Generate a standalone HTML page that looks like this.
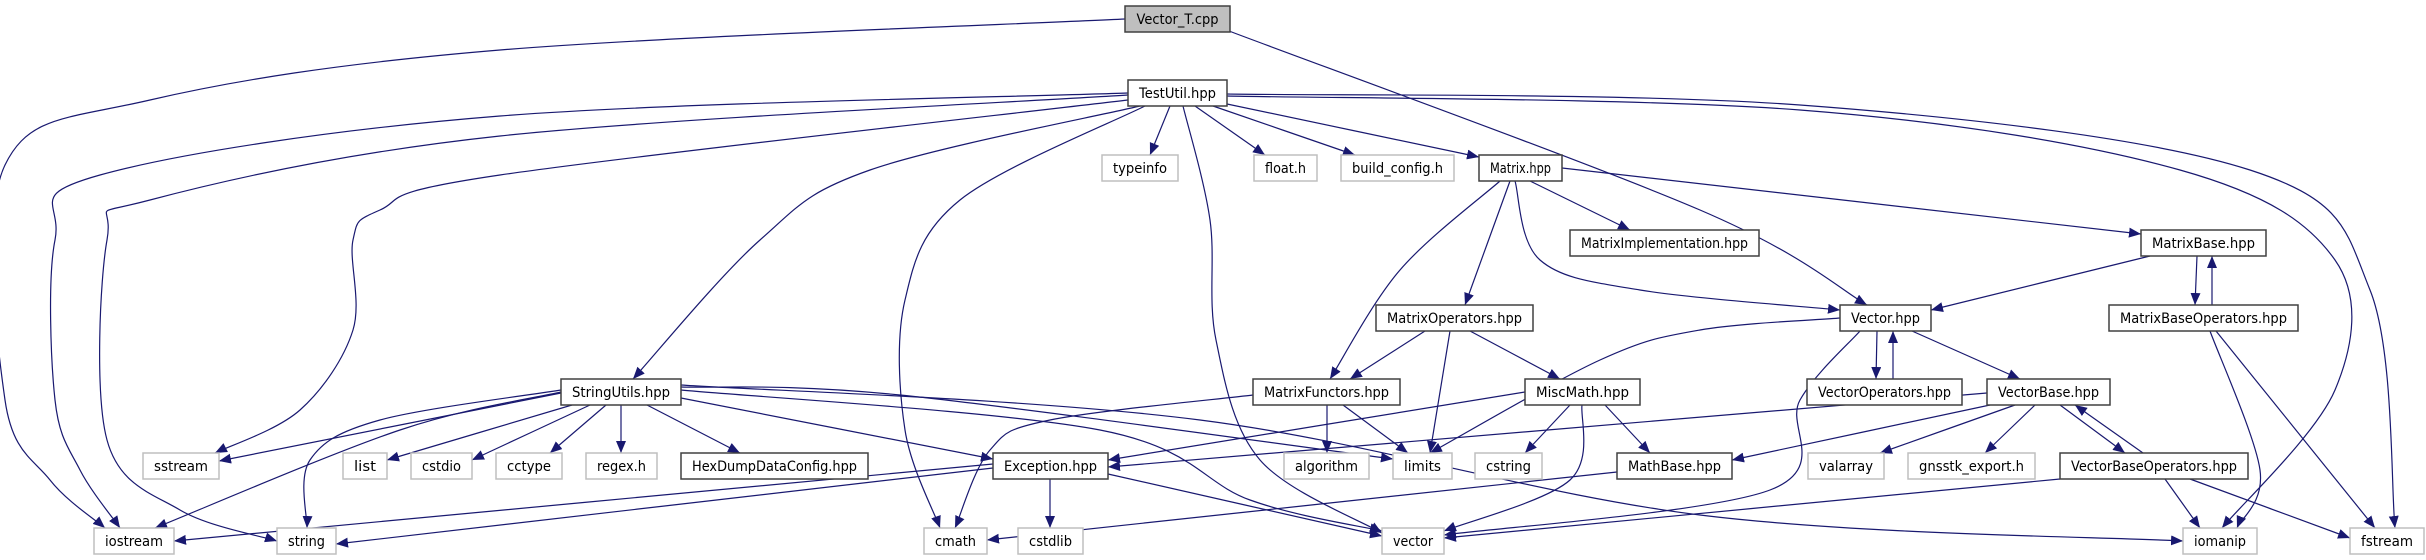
<!DOCTYPE html>
<html><head><meta charset="utf-8"><style>
html,body{margin:0;padding:0;background:#fff;}
svg{display:block;}
text{font-family:"DejaVu Sans","Liberation Sans",sans-serif;font-size:14px;fill:#000;}
</style></head><body>
<svg id="g" width="2426" height="560" viewBox="0 0 2426 560" xmlns="http://www.w3.org/2000/svg">
<defs><marker id="a" markerUnits="userSpaceOnUse" markerWidth="14" markerHeight="12" refX="12" refY="5" orient="auto"><path d="M0,0 L12,5 L0,10 z" fill="#191970"/></marker></defs>
<g id="edges" fill="none" stroke="#191970" stroke-width="1.2"></g>
<g id="nodes">
<rect x="1125" y="6" width="105" height="26" fill="#bfbfbf" stroke="#404040" stroke-width="1.5"/><text x="1177.5" y="24" text-anchor="middle" textLength="82" lengthAdjust="spacingAndGlyphs">Vector_T.cpp</text>
<rect x="1128" y="80" width="99" height="26" fill="#fff" stroke="#404040" stroke-width="1.5"/><text x="1177.5" y="98" text-anchor="middle" textLength="77" lengthAdjust="spacingAndGlyphs">TestUtil.hpp</text>
<rect x="1102" y="155" width="76" height="26" fill="#fff" stroke="#bfbfbf" stroke-width="1.5"/><text x="1140" y="173" text-anchor="middle" textLength="54" lengthAdjust="spacingAndGlyphs">typeinfo</text>
<rect x="1254" y="155" width="63" height="26" fill="#fff" stroke="#bfbfbf" stroke-width="1.5"/><text x="1285.5" y="173" text-anchor="middle" textLength="41" lengthAdjust="spacingAndGlyphs">float.h</text>
<rect x="1341" y="155" width="113" height="26" fill="#fff" stroke="#bfbfbf" stroke-width="1.5"/><text x="1397.5" y="173" text-anchor="middle" textLength="91" lengthAdjust="spacingAndGlyphs">build_config.h</text>
<rect x="1479" y="155" width="83" height="26" fill="#fff" stroke="#404040" stroke-width="1.5"/><text x="1520.5" y="173" text-anchor="middle" textLength="61" lengthAdjust="spacingAndGlyphs">Matrix.hpp</text>
<rect x="1570" y="230" width="189" height="26" fill="#fff" stroke="#404040" stroke-width="1.5"/><text x="1664.5" y="248" text-anchor="middle" textLength="167" lengthAdjust="spacingAndGlyphs">MatrixImplementation.hpp</text>
<rect x="2141" y="230" width="125" height="26" fill="#fff" stroke="#404040" stroke-width="1.5"/><text x="2203.5" y="248" text-anchor="middle" textLength="103" lengthAdjust="spacingAndGlyphs">MatrixBase.hpp</text>
<rect x="1376" y="305" width="157" height="26" fill="#fff" stroke="#404040" stroke-width="1.5"/><text x="1454.5" y="323" text-anchor="middle" textLength="135" lengthAdjust="spacingAndGlyphs">MatrixOperators.hpp</text>
<rect x="1840" y="305" width="91" height="26" fill="#fff" stroke="#404040" stroke-width="1.5"/><text x="1885.5" y="323" text-anchor="middle" textLength="69" lengthAdjust="spacingAndGlyphs">Vector.hpp</text>
<rect x="2109" y="305" width="189" height="26" fill="#fff" stroke="#404040" stroke-width="1.5"/><text x="2203.5" y="323" text-anchor="middle" textLength="167" lengthAdjust="spacingAndGlyphs">MatrixBaseOperators.hpp</text>
<rect x="561" y="379" width="120" height="26" fill="#fff" stroke="#404040" stroke-width="1.5"/><text x="621" y="397" text-anchor="middle" textLength="98" lengthAdjust="spacingAndGlyphs">StringUtils.hpp</text>
<rect x="1253" y="379" width="147" height="26" fill="#fff" stroke="#404040" stroke-width="1.5"/><text x="1326.5" y="397" text-anchor="middle" textLength="125" lengthAdjust="spacingAndGlyphs">MatrixFunctors.hpp</text>
<rect x="1525" y="379" width="115" height="26" fill="#fff" stroke="#404040" stroke-width="1.5"/><text x="1582.5" y="397" text-anchor="middle" textLength="93" lengthAdjust="spacingAndGlyphs">MiscMath.hpp</text>
<rect x="1807" y="379" width="155" height="26" fill="#fff" stroke="#404040" stroke-width="1.5"/><text x="1884.5" y="397" text-anchor="middle" textLength="133" lengthAdjust="spacingAndGlyphs">VectorOperators.hpp</text>
<rect x="1987" y="379" width="123" height="26" fill="#fff" stroke="#404040" stroke-width="1.5"/><text x="2048.5" y="397" text-anchor="middle" textLength="101" lengthAdjust="spacingAndGlyphs">VectorBase.hpp</text>
<rect x="143" y="453" width="76" height="26" fill="#fff" stroke="#bfbfbf" stroke-width="1.5"/><text x="181" y="471" text-anchor="middle" textLength="54" lengthAdjust="spacingAndGlyphs">sstream</text>
<rect x="343" y="453" width="44" height="26" fill="#fff" stroke="#bfbfbf" stroke-width="1.5"/><text x="365" y="471" text-anchor="middle" textLength="22" lengthAdjust="spacingAndGlyphs">list</text>
<rect x="411" y="453" width="61" height="26" fill="#fff" stroke="#bfbfbf" stroke-width="1.5"/><text x="441.5" y="471" text-anchor="middle" textLength="39" lengthAdjust="spacingAndGlyphs">cstdio</text>
<rect x="496" y="453" width="66" height="26" fill="#fff" stroke="#bfbfbf" stroke-width="1.5"/><text x="529" y="471" text-anchor="middle" textLength="44" lengthAdjust="spacingAndGlyphs">cctype</text>
<rect x="586" y="453" width="71" height="26" fill="#fff" stroke="#bfbfbf" stroke-width="1.5"/><text x="621.5" y="471" text-anchor="middle" textLength="49" lengthAdjust="spacingAndGlyphs">regex.h</text>
<rect x="681" y="453" width="187" height="26" fill="#fff" stroke="#404040" stroke-width="1.5"/><text x="774.5" y="471" text-anchor="middle" textLength="165" lengthAdjust="spacingAndGlyphs">HexDumpDataConfig.hpp</text>
<rect x="993" y="453" width="115" height="26" fill="#fff" stroke="#404040" stroke-width="1.5"/><text x="1050.5" y="471" text-anchor="middle" textLength="93" lengthAdjust="spacingAndGlyphs">Exception.hpp</text>
<rect x="1284" y="453" width="85" height="26" fill="#fff" stroke="#bfbfbf" stroke-width="1.5"/><text x="1326.5" y="471" text-anchor="middle" textLength="63" lengthAdjust="spacingAndGlyphs">algorithm</text>
<rect x="1393" y="453" width="59" height="26" fill="#fff" stroke="#bfbfbf" stroke-width="1.5"/><text x="1422.5" y="471" text-anchor="middle" textLength="37" lengthAdjust="spacingAndGlyphs">limits</text>
<rect x="1475" y="453" width="67" height="26" fill="#fff" stroke="#bfbfbf" stroke-width="1.5"/><text x="1508.5" y="471" text-anchor="middle" textLength="45" lengthAdjust="spacingAndGlyphs">cstring</text>
<rect x="1617" y="453" width="115" height="26" fill="#fff" stroke="#404040" stroke-width="1.5"/><text x="1674.5" y="471" text-anchor="middle" textLength="93" lengthAdjust="spacingAndGlyphs">MathBase.hpp</text>
<rect x="1808" y="453" width="76" height="26" fill="#fff" stroke="#bfbfbf" stroke-width="1.5"/><text x="1846" y="471" text-anchor="middle" textLength="54" lengthAdjust="spacingAndGlyphs">valarray</text>
<rect x="1908" y="453" width="127" height="26" fill="#fff" stroke="#bfbfbf" stroke-width="1.5"/><text x="1971.5" y="471" text-anchor="middle" textLength="105" lengthAdjust="spacingAndGlyphs">gnsstk_export.h</text>
<rect x="2060" y="453" width="188" height="26" fill="#fff" stroke="#404040" stroke-width="1.5"/><text x="2154" y="471" text-anchor="middle" textLength="166" lengthAdjust="spacingAndGlyphs">VectorBaseOperators.hpp</text>
<rect x="94" y="528" width="80" height="26" fill="#fff" stroke="#bfbfbf" stroke-width="1.5"/><text x="134" y="546" text-anchor="middle" textLength="58" lengthAdjust="spacingAndGlyphs">iostream</text>
<rect x="277" y="528" width="59" height="26" fill="#fff" stroke="#bfbfbf" stroke-width="1.5"/><text x="306.5" y="546" text-anchor="middle" textLength="37" lengthAdjust="spacingAndGlyphs">string</text>
<rect x="924" y="528" width="63" height="26" fill="#fff" stroke="#bfbfbf" stroke-width="1.5"/><text x="955.5" y="546" text-anchor="middle" textLength="41" lengthAdjust="spacingAndGlyphs">cmath</text>
<rect x="1018" y="528" width="65" height="26" fill="#fff" stroke="#bfbfbf" stroke-width="1.5"/><text x="1050.5" y="546" text-anchor="middle" textLength="43" lengthAdjust="spacingAndGlyphs">cstdlib</text>
<rect x="1382" y="528" width="62" height="26" fill="#fff" stroke="#bfbfbf" stroke-width="1.5"/><text x="1413" y="546" text-anchor="middle" textLength="40" lengthAdjust="spacingAndGlyphs">vector</text>
<rect x="2183" y="528" width="74" height="26" fill="#fff" stroke="#bfbfbf" stroke-width="1.5"/><text x="2220" y="546" text-anchor="middle" textLength="52" lengthAdjust="spacingAndGlyphs">iomanip</text>
<rect x="2350" y="528" width="74" height="26" fill="#fff" stroke="#bfbfbf" stroke-width="1.5"/><text x="2387" y="546" text-anchor="middle" textLength="52" lengthAdjust="spacingAndGlyphs">fstream</text>
</g>
</svg>
<script>
var E=[
[[1125,19],[500,50],[150,100],[5,165],[5,400],[50,480],[105,528]],
[[1128,93],[500,116],[100,175],[55,240],[55,400],[80,470],[120,528]],
[[1128,95],[500,136],[150,200],[107,240],[107,440],[180,510],[277,541]],
[[1128,100],[500,175],[380,210],[353,240],[353,330],[300,410],[215,453]],
[[1140,106],[870,170],[760,240],[633,379]],
[[1145,106],[960,200],[905,300],[905,430],[940,528]],
[[1183,106],[1210,220],[1216,340],[1260,460],[1382,533]],
[[1170,106],[1150,155]],
[[1195,106],[1265,155]],
[[1213,106],[1355,155]],
[[1227,104],[1479,157]],
[[1227,96],[1800,110],[2180,170],[2335,260],[2335,390],[2222,528]],
[[1227,94],[1800,105],[2250,170],[2370,290],[2395,528]],
[[1229,31],[1700,210],[1867,305]],
[[1530,181],[1630,230]],
[[1562,168],[2141,234]],
[[1515,181],[1540,260],[1640,290],[1840,310]],
[[1510,181],[1465,305]],
[[1500,181],[1400,270],[1330,379]],
[[2150,256],[1931,310]],
[[2197,256],[2195,305]],
[[2212,305],[2212,256]],
[[2210,331],[2260,470],[2237,528]],
[[2216,331],[2375,528]],
[[1840,318],[1700,330],[1600,360],[1430,453]],
[[1860,331],[1800,400],[1770,490],[1444,535]],
[[1877,331],[1876,379]],
[[1893,379],[1893,331]],
[[1912,331],[2020,379]],
[[1425,331],[1350,379]],
[[1450,331],[1430,453]],
[[1470,331],[1560,379]],
[[1253,395],[1050,420],[990,450],[955,528]],
[[1327,405],[1327,453]],
[[1343,405],[1408,453]],
[[1525,392],[1108,460]],
[[1570,405],[1525,453]],
[[1605,405],[1650,453]],
[[1582,405],[1570,480],[1444,531]],
[[561,393],[219,461]],
[[561,392],[400,430],[155,528]],
[[561,390],[380,420],[310,460],[307,528]],
[[572,405],[387,460]],
[[590,405],[472,460]],
[[606,405],[550,453]],
[[621,405],[621,453]],
[[647,405],[740,453]],
[[681,398],[993,459]],
[[681,387],[900,395],[1393,459]],
[[681,390],[1100,430],[1250,500],[1382,531]],
[[681,385],[1200,420],[1700,515],[2183,541]],
[[993,464],[174,541]],
[[993,468],[336,544]],
[[1050,479],[1050,528]],
[[1108,474],[1382,536]],
[[1987,393],[1108,467]],
[[1990,405],[1732,460]],
[[2015,405],[1880,453]],
[[2035,405],[1985,453]],
[[2060,405],[2125,453]],
[[2143,453],[2075,405]],
[[2060,479],[1444,538]],
[[2165,479],[2200,528]],
[[2190,479],[2350,538]],
[[1617,472],[987,540]]
];
var g=document.getElementById('edges'),ns='http://www.w3.org/2000/svg';
E.forEach(function(p){
 var d='M'+p[0][0]+','+p[0][1];
 for(var i=0;i<p.length-1;i++){
  var p0=p[i-1]||p[i],p1=p[i],p2=p[i+1],p3=p[i+2]||p2;
  var c1=[p1[0]+(p2[0]-p0[0])/6,p1[1]+(p2[1]-p0[1])/6],c2=[p2[0]-(p3[0]-p1[0])/6,p2[1]-(p3[1]-p1[1])/6];
  d+=' C'+c1+' '+c2+' '+p2;
 }
 var e=document.createElementNS(ns,'path');e.setAttribute('d',d);e.setAttribute('marker-end','url(#a)');g.appendChild(e);
});
</script>
</body></html>
